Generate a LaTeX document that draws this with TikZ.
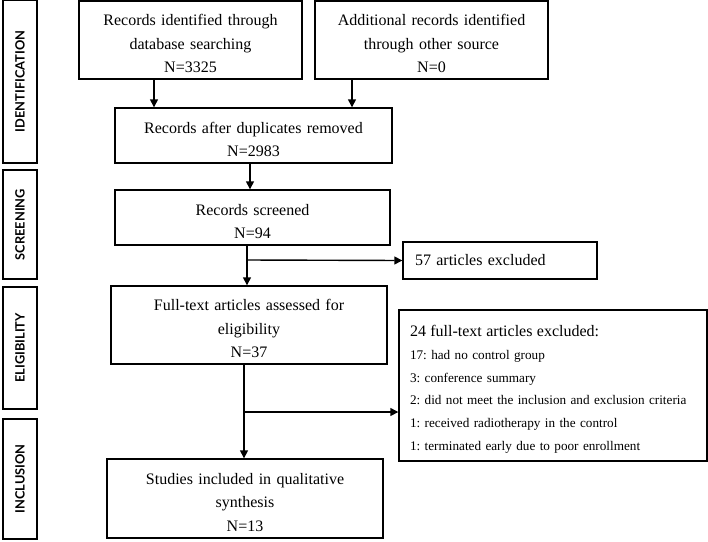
\documentclass[tikz,border=0pt]{standalone}
\usepackage{fontspec}
\setmainfont{Liberation Serif}
\newfontfamily\stagefont{Lato}
\usetikzlibrary{arrows.meta}
\frenchspacing

\begin{document}
\begin{tikzpicture}[x=1pt, y=-1pt, line width=1.4pt,
  every node/.style={draw, rectangle, line width=1.4pt, inner sep=2pt, align=center, font=\fontsize{16}{23.5}\selectfont},
  box/.style={text width=#1, inner xsep=0pt, execute at begin node={\rule{0pt}{19pt}}},
  stage/.style={rotate=90, minimum height=34pt, font=\stagefont\bfseries\fontsize{12.8}{15}\selectfont},
  arr/.style={-{Triangle[length=8pt,width=8pt]}}]
\useasboundingbox (0,0) rectangle (708,541);
% Stages
\node[stage, minimum width=163pt] (ident) at (20,81.5) {IDENTIFICATION};
\node[stage, minimum width=109pt] (scr) at (20,224.5) {SCREENING};
\node[stage, minimum width=122pt] (elig) at (20,348) {ELIGIBILITY};
\node[stage, minimum width=120pt] (incl) at (20,479) {INCLUSION};

% Boxes
\node[box=223pt, minimum height=78pt] (db) at (190.5,40) {Records identified through\\database searching\\N=3325};
\node[box=233pt, minimum height=78pt] (other) at (431.5,40) {Additional records identified\\through other source\\N=0};
\node[box=277pt, minimum height=55pt] (dup) at (253.5,135.5) {Records after duplicates removed\\N=2983};
\node[box=275pt, minimum height=55pt] (screened) at (252.5,217.5) {Records screened\\N=94};
\node[minimum width=194pt, minimum height=37pt, align=left, text width=170pt, inner xsep=11pt] (ex57) at (500,260.5) {57 articles excluded};
\node[box=276pt, minimum height=78pt] (full) at (249,325) {Full-text articles assessed for\\eligibility\\N=37};
\node[box=286pt, minimum height=151pt, align=left, inner xsep=11pt,
  font=\fontsize{13.2}{22.8}\selectfont] (ex24) at (553,385.5)
  {{\fontsize{16}{22.8}\selectfont 24 full-text articles excluded:}\\
   17: had no control group\\
   3: conference summary\\
   2: did not meet the inclusion and exclusion criteria\\
   1: received radiotherapy in the control\\
   1: terminated early due to poor enrollment};
\node[box=276pt, minimum height=79pt] (studies) at (245,498.5) {Studies included in qualitative\\synthesis\\N=13};

%Arrows
\coordinate (s1) at ([xshift=-5.5pt]screened.south |- 0,260);
\coordinate (s2) at ([xshift=-5pt]full.south |- 0,412);
\draw[arr] ([xshift=-36.5pt]db.south) -- ([xshift=-36.5pt]db.south |- dup.north);
\draw[arr] ([xshift=-79.5pt]other.south) -- ([xshift=-79.5pt]other.south |- dup.north);
\draw[arr] ([xshift=-3.5pt]dup.south) -- ([xshift=-3.5pt]dup.south |- screened.north);
\draw[arr] ([xshift=-5.5pt]screened.south) -- ([xshift=-5.5pt]screened.south |- full.north);
\draw[arr] (s1) -- (ex57.west);
\draw[arr] ([xshift=-5pt]full.south) -- ([xshift=-5pt]full.south |- studies.north);
\draw[arr] (s2) -- (s2 -| ex24.west);
\end{tikzpicture}
\end{document}
